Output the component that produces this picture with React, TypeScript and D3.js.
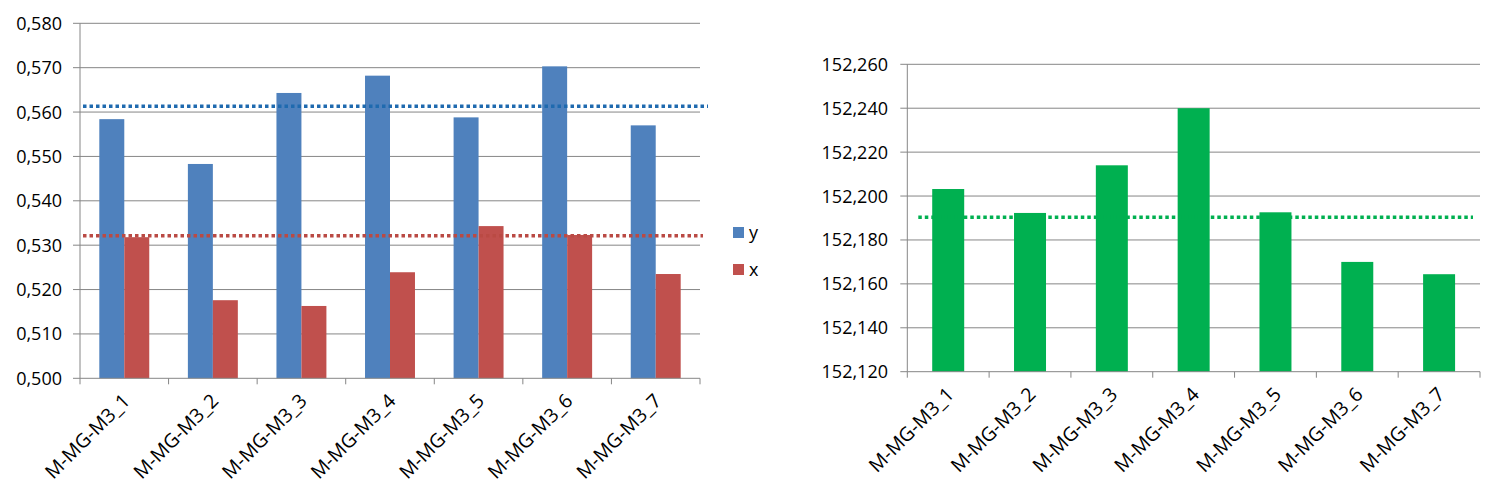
import React from "react";
import * as d3 from "d3";

const categories = ["M-MG-M3_1", "M-MG-M3_2", "M-MG-M3_3", "M-MG-M3_4", "M-MG-M3_5", "M-MG-M3_6", "M-MG-M3_7"];
const seriesNames = ["y", "x"];
const yValues = [0.5584, 0.5483, 0.5643, 0.5682, 0.5588, 0.5703, 0.557];
const xValues = [0.5318, 0.5176, 0.5163, 0.5239, 0.5343, 0.5323, 0.5235];
const yRefLine = 0.5613;
const xRefLine = 0.5321;
const leftTicks = [0.5, 0.51, 0.52, 0.53, 0.54, 0.55, 0.56, 0.57, 0.58];

const greenValues = [152.2032, 152.1923, 152.214, 152.24, 152.1926, 152.17, 152.1644];
const greenRefLine = 152.1903;
const rightTicks = [152.12, 152.14, 152.16, 152.18, 152.2, 152.22, 152.24, 152.26];

const FONT = "'Open Sans', 'Liberation Sans', sans-serif";
const GRID = "#868686";
const BLUE = "#4F81BD";
const RED = "#C0504D";
const GREEN = "#00B050";
const BLUE_DOT = "#1F6AAF";
const RED_DOT = "#BA4A44";
const LABEL_SIZE = 19.5;

const fmt = (d: number) => d.toFixed(3).replace(".", ",");

function LeftChart() {
  const L = 80, R = 700, T = 23.3, B = 378.3;
  const y = d3.scaleLinear().domain([0.5, 0.58]).range([B, T]);
  const x0 = d3.scaleBand<string>().domain(categories).range([L, R]).paddingInner(0.436).paddingOuter(0.218);
  const x1 = d3.scaleBand<string>().domain(seriesNames).range([0, x0.bandwidth()]);
  const data = [yValues, xValues];
  const colors = [BLUE, RED];
  const step = x0.step();
  const bounds = d3.range(categories.length + 1).map((i) => L + i * step);
  return (
    <g>
      {leftTicks.map((t) => (
        <g key={t}>
          <line x1={L - 7} x2={t === 0.5 ? L : R} y1={y(t)} y2={y(t)} stroke={GRID} strokeWidth={1} />
          <text x={62} y={y(t)} dy="0.36em" textAnchor="end" fontFamily={FONT} fontSize={18} fill="#000">
            {fmt(t)}
          </text>
        </g>
      ))}
      <line x1={L} x2={L} y1={T} y2={B} stroke={GRID} strokeWidth={1} />
      {categories.map((c, i) =>
        data.map((vals, s) => (
          <rect
            key={c + s}
            x={(x0(c) as number) + (x1(seriesNames[s]) as number)}
            width={x1.bandwidth()}
            y={y(vals[i])}
            height={B - y(vals[i])}
            fill={colors[s]}
          />
        ))
      )}
      <line x1={L} x2={R} y1={B} y2={B} stroke={GRID} strokeWidth={1} />
      {bounds.map((bx, i) => (
        <line key={i} x1={bx} x2={bx} y1={B} y2={B + 6} stroke={GRID} strokeWidth={1} />
      ))}
      <line x1={L + 3} x2={R + 8} y1={y(yRefLine)} y2={y(yRefLine)} stroke={BLUE_DOT} strokeWidth={3.5} strokeDasharray="3.5 3" />
      <line x1={L + 3} x2={R + 3} y1={y(xRefLine)} y2={y(xRefLine)} stroke={RED_DOT} strokeWidth={3.5} strokeDasharray="3.5 3" />
      {categories.map((c) => {
        const cx = (x0(c) as number) + x0.bandwidth() / 2 + 2;
        const cy = B + 19;
        return (
          <text
            key={c}
            transform={`translate(${cx},${cy}) rotate(-45)`}
            textAnchor="end"
            dy="0.35em"
            fontFamily={FONT}
            fontSize={LABEL_SIZE}
            fill="#000"
          >
            {c}
          </text>
        );
      })}
      {seriesNames.map((s, i) => (
        <g key={s} transform={`translate(733,${227 + i * 37})`}>
          <rect x={0} y={0} width={11} height={11} fill={colors[i]} />
          <text x={16} y={5.5} dy="0.36em" fontFamily={FONT} fontSize={18} fill="#000">
            {s}
          </text>
        </g>
      ))}
    </g>
  );
}

function RightChart() {
  const L = 907.3, R = 1480, T = 64.3, B = 371.7;
  const y = d3.scaleLinear().domain([152.12, 152.26]).range([B, T]);
  const x = d3.scaleBand<string>().domain(categories).range([L, R]).paddingInner(0.609).paddingOuter(0.3045);
  const step = x.step();
  const bounds = d3.range(categories.length + 1).map((i) => L + i * step);
  return (
    <g>
      {rightTicks.map((t) => (
        <g key={t}>
          <line x1={L - 7} x2={Math.abs(t - 152.12) < 1e-9 ? L : R} y1={y(t)} y2={y(t)} stroke={GRID} strokeWidth={1} />
          <text x={888} y={y(t)} dy="0.36em" textAnchor="end" fontFamily={FONT} fontSize={18} fill="#000">
            {fmt(t)}
          </text>
        </g>
      ))}
      <line x1={L} x2={L} y1={T} y2={B} stroke={GRID} strokeWidth={1} />
      {categories.map((c, i) => (
        <rect key={c} x={x(c) as number} width={x.bandwidth()} y={y(greenValues[i])} height={B - y(greenValues[i])} fill={GREEN} />
      ))}
      <line x1={L} x2={R} y1={B} y2={B} stroke={GRID} strokeWidth={1} />
      {bounds.map((bx, i) => (
        <line key={i} x1={bx} x2={bx} y1={B} y2={B + 6} stroke={GRID} strokeWidth={1} />
      ))}
      <line x1={L + 11} x2={R - 7} y1={y(greenRefLine)} y2={y(greenRefLine)} stroke={GREEN} strokeWidth={3.5} strokeDasharray="3.5 3" />
      {categories.map((c) => {
        const cx = (x(c) as number) + x.bandwidth() / 2 + 2;
        const cy = B + 19;
        return (
          <text
            key={c}
            transform={`translate(${cx},${cy}) rotate(-45)`}
            textAnchor="end"
            dy="0.35em"
            fontFamily={FONT}
            fontSize={LABEL_SIZE}
            fill="#000"
          >
            {c}
          </text>
        );
      })}
    </g>
  );
}

export default function App() {
  return (
    <svg
      width={1500}
      height={502}
      style={{ position: "absolute", left: 0, top: 0, background: "#fff" }}
    >
      <rect x={0} y={0} width={1500} height={502} fill="#fff" />
      <LeftChart />
      <RightChart />
    </svg>
  );
}
